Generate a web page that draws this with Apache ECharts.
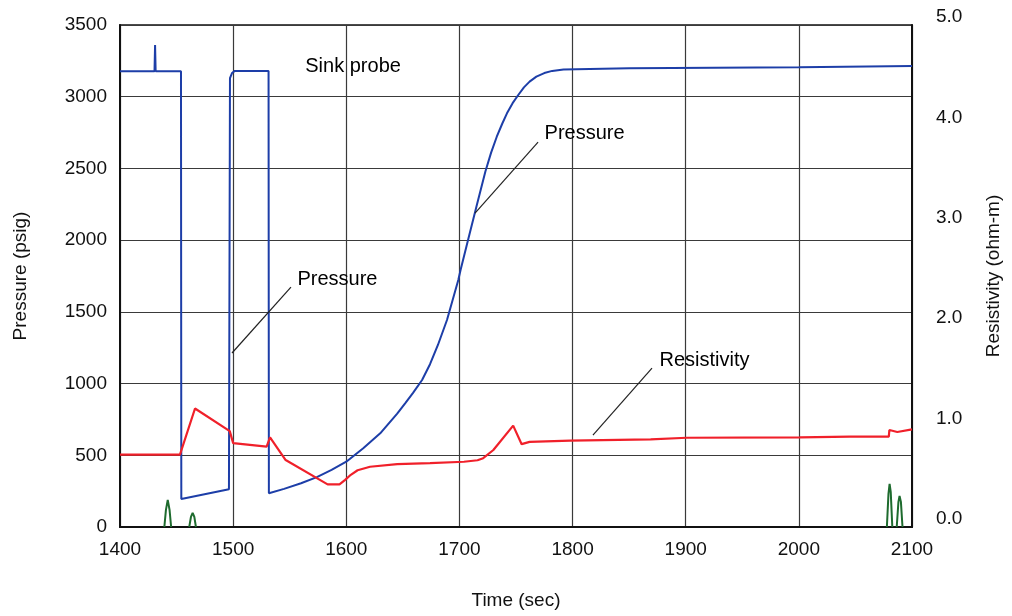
<!DOCTYPE html>
<html><head><meta charset="utf-8">
<script src="https://cdn.jsdelivr.net/npm/echarts@6/dist/echarts.min.js"></script>
<style>html,body{margin:0;padding:0;background:#fff}#c{width:1012px;height:616px}</style>
</head><body><div id="c"></div>
<script>
// Time (sec) vs Pressure (psig)
const pressure = [
  [1400,3178],[1430.5,3178],[1431,3360],[1431.5,3178],[1453.9,3178],[1454.2,195],[1496.3,263],
  [1497.2,3130],[1499,3165],[1501.5,3180],[1531.3,3180],[1531.6,235],[1545,266],[1560,305],
  [1574,348],[1587,398],[1600,455],[1615,549],[1630,653],[1645,790],[1652,862],[1659,935],
  [1667,1025],[1674,1135],[1681,1269],[1689,1443],[1694,1583],[1699,1722],[1701,1792],
  [1708,2013],[1715,2233],[1723,2480],[1728,2610],[1733,2721],[1738,2815],[1742,2884],
  [1747,2955],[1752,3012],[1757,3065],[1762,3105],[1768,3140],[1775,3165],[1782,3180],
  [1792,3190],[1850,3198],[2000,3206],[2100,3214]
];
// Time (sec) vs Resistivity (ohm-m)
const resistivity = [
  [1400,0.72],[1453,0.72],[1466.3,1.18],[1497,0.955],[1500,0.835],[1529.6,0.80],[1532.6,0.893],
  [1546.4,0.667],[1583.5,0.425],[1594,0.425],[1599,0.47],[1604,0.52],[1610,0.565],[1621,0.60],
  [1645,0.627],[1674,0.637],[1704,0.65],[1716,0.665],[1721,0.685],[1730,0.767],[1747.5,1.01],
  [1755,0.825],[1762,0.848],[1798,0.86],[1869,0.873],[1901,0.889],[2001,0.893],[2045,0.9],
  [2079.5,0.9],[2080,0.966],[2087,0.946],[2100,0.973]
];
// unlabeled green trace (right axis units)
const trace3 = [
  [1439.2,0],[1440.6,0.17],[1442.2,0.27],[1443.8,0.17],[1445.2,0],[1450,'-'],
  [1461.2,0],[1462.7,0.1],[1464.2,0.14],[1465.7,0.1],[1467.1,0],[1470,'-'],
  [2077.8,0],[2079.2,0.33],[2080.2,0.43],[2081.2,0.35],[2082.6,0],[2084,'-'],
  [2086.5,0],[2088,0.25],[2089,0.31],[2090.2,0.25],[2091.6,0]
];
// annotation texts (time, psig) and leader lines
const noteTexts = ['Sink probe','Pressure','Pressure','Resistivity'];
const notePos = [[1606,3214],[1810.6,2747],[1592.2,1729],[1916.6,1164]];
const leaders = [
  [[1713.8,2189],[1769.5,2684]],
  [[1499,1213],[1551.1,1673]],
  [[1818,641],[1870.2,1108]]
];
const xMin = 1400, xMax = 2100, xStep = 100;
const pMax = 3500, pStep = 500;
const rMax = 5, rStep = 1;

const FONT = '"Liberation Sans", Arial, sans-serif';
const chart = echarts.init(document.getElementById('c'), null, {renderer:'canvas'});
chart.setOption({
  animation: false,
  backgroundColor: '#fff',
  textStyle: {fontFamily: FONT},
  grid: {left:120, right:100, top:25, bottom:89, show:true, borderColor:'#111', borderWidth:1.5, backgroundColor:'transparent'},
  xAxis: {
    type:'value', min:xMin, max:xMax, interval:xStep,
    axisLine:{lineStyle:{color:'#111', width:2}}, axisTick:{show:false},
    axisLabel:{fontSize:19, color:'#111', margin:13, fontFamily:FONT, formatter: v => String(v)},
    splitLine:{show:true, lineStyle:{color:'#3a3a3a', width:1.2}},
    name:'Time (sec)', nameLocation:'middle', nameGap:64,
    nameTextStyle:{fontSize:19, color:'#111', fontFamily:FONT}
  },
  yAxis: [{
    type:'value', min:0, max:pMax, interval:pStep, position:'left',
    axisLine:{show:true, lineStyle:{color:'#111', width:2}}, axisTick:{show:false},
    axisLabel:{fontSize:19, color:'#111', margin:13, fontFamily:FONT,
      formatter: v => String(v)},
    splitLine:{show:true, lineStyle:{color:'#3a3a3a', width:1.2}},
    name:'Pressure (psig)', nameLocation:'middle', nameGap:90, nameRotate:90,
    nameTextStyle:{fontSize:19, color:'#111', fontFamily:FONT}
  },{
    type:'value', min:0, max:rMax, interval:rStep, position:'right',
    axisLine:{show:true, lineStyle:{color:'#111', width:2}}, axisTick:{show:false},
    axisLabel:{fontSize:19, color:'#111', margin:24, verticalAlign:'bottom', lineHeight:16,
      fontFamily:FONT, formatter: v => v.toFixed(1)},
    splitLine:{show:false},
    name:'Resistivity (ohm-m)', nameLocation:'middle', nameGap:72, nameRotate:90,
    nameTextStyle:{fontSize:19, color:'#111', fontFamily:FONT}
  }],
  series: [
    {type:'line', name:'Pressure', yAxisIndex:0, data:pressure, symbol:'none',
      lineStyle:{color:'#1d3ea8', width:2}, z:3},
    {type:'line', name:'Resistivity', yAxisIndex:1, data:resistivity, symbol:'none',
      lineStyle:{color:'#f0202a', width:2.2}, z:4},
    {type:'line', name:'Trace', yAxisIndex:1, data:trace3, symbol:'none', connectNulls:false,
      lineStyle:{color:'#1e6b2e', width:2}, z:2},
    {type:'scatter', name:'notes', yAxisIndex:0, symbolSize:0, silent:true, z:5,
      data: notePos.map((p,i)=>({name:noteTexts[i], value:p})),
      itemStyle:{opacity:1},
      label:{show:true, position:[0,0], align:'center', verticalAlign:'middle', opacity:1,
        formatter: p => p.name, fontSize:20, color:'#000', fontFamily:FONT},
      markLine:{silent:true, symbol:['none','none'], label:{show:false},
        lineStyle:{color:'#222', width:1.2, type:'solid', opacity:1},
        data: leaders.map(l => [{coord:l[0]},{coord:l[1]}])}
    }
  ]
});
</script></body></html>
